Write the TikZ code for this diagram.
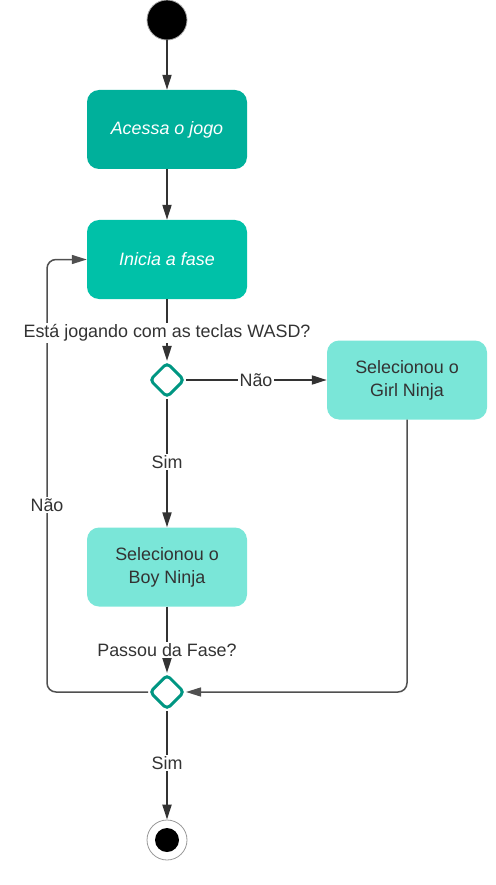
\documentclass[tikz,border=0pt]{standalone}
\usepackage{fontspec}
\setmainfont{Liberation Sans}
\usetikzlibrary{arrows.meta,shapes.geometric}
\definecolor{tealA}{RGB}{0,176,155}
\definecolor{tealB}{RGB}{0,193,168}
\definecolor{tealL}{RGB}{122,230,216}
\definecolor{tealD}{RGB}{0,150,130}
\definecolor{ink}{RGB}{51,51,51}
\definecolor{lineg}{RGB}{80,80,80}
\tikzset{
  actbox/.style={rectangle, rounded corners=12pt, minimum width=160pt, minimum height=79pt, inner sep=2pt, align=center, font=\fontsize{17.9}{23}\selectfont},
  darkact/.style={actbox, fill=tealA, text=white, font=\fontsize{17.9}{23}\selectfont\itshape},
  midact/.style={actbox, fill=tealB, text=white, font=\fontsize{17.9}{23}\selectfont\itshape},
  lightact/.style={actbox, fill=tealL, text=ink},
  decision/.style={diamond, draw=tealD, line width=3pt, fill=white, rounded corners=4pt, minimum width=35pt, minimum height=35pt, inner sep=0pt},
  lbl/.style={fill=white, text=ink, inner sep=1.5pt, font=\fontsize{17.9}{21}\selectfont},
  flow/.style={draw=ink, line width=2pt, -{Triangle[length=15pt,width=9pt]}},
  loopflow/.style={draw=lineg, line width=1.5pt, rounded corners=9pt, -{Triangle[length=15pt,width=9pt]}},
}
\begin{document}
\begin{tikzpicture}[x=1pt,y=-1pt]
\useasboundingbox (0,0) rectangle (495,885);
\node[circle, fill=black, draw=gray!70, line width=0.8pt, minimum size=40pt, inner sep=0pt] (start) at (167,20) {};
\node[darkact] (b1) at (167,129.5) {Acessa o jogo};
\node[midact] (b2) at (167,259.5) {Inicia a fase};
\node[decision] (d1) at (167,380) {};
\node[lightact] (b3) at (407,380) {Selecionou o\\Girl Ninja};
\node[lightact] (b4) at (167,567) {Selecionou o\\Boy Ninja};
\node[decision] (d2) at (167,692) {};
\node[circle, draw=gray!80, line width=0.8pt, fill=white, minimum size=40pt, inner sep=0pt] (end) at (167,840) {};
\node[circle, fill=black, minimum size=24pt, inner sep=0pt] (endin) at (end.center) {};
\coordinate (rc) at (407,692);
\coordinate (lc1) at (47,692);
\coordinate (lc2) at (47,259.5);

\draw[flow] (start) -- (b1);
\draw[flow] (b1) -- (b2);
\draw[flow] (b2) -- (d1);
\draw[flow] (d1) -- (b3);
\draw[flow] (d1) -- (b4);
\draw[flow] (b4) -- (d2);
\draw[flow] (d2) -- (end);
\draw[loopflow] (b3.south) -- (rc) -- (d2.east);
\draw[loopflow] (d2.west) -- (lc1) -- (lc2) -- (b2.west);

\node[lbl] (q1) at (167,333) {Está jogando com as teclas WASD?};
\node[lbl] (n1) at (256,380) {Não};
\node[lbl] (s1) at (167,462) {Sim};
\node[lbl] (q2) at (167,650) {Passou da Fase?};
\node[lbl] (n2) at (47,505) {Não};
\node[lbl] (s2) at (167,763) {Sim};
\end{tikzpicture}
\end{document}
